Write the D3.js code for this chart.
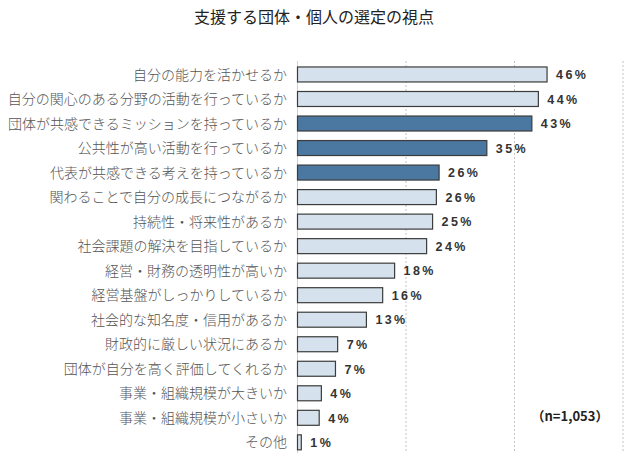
<!DOCTYPE html>
<html>
<head>
<meta charset="utf-8">
<script src="https://cdn.jsdelivr.net/npm/d3@7"></script>
<style>
  html, body { margin: 0; padding: 0; background: #fff; }
  svg { display: block; }
</style>
</head>
<body>
<div id="chart"></div>
<script>
const title = "支援する団体・個人の選定の視点";
const categories = [
  "自分の能力を活かせるか",
  "自分の関心のある分野の活動を行っているか",
  "団体が共感できるミッションを持っているか",
  "公共性が高い活動を行っているか",
  "代表が共感できる考えを持っているか",
  "関わることで自分の成長につながるか",
  "持続性・将来性があるか",
  "社会課題の解決を目指しているか",
  "経営・財務の透明性が高いか",
  "経営基盤がしっかりしているか",
  "社会的な知名度・信用があるか",
  "財政的に厳しい状況にあるか",
  "団体が自分を高く評価してくれるか",
  "事業・組織規模が大きいか",
  "事業・組織規模が小さいか",
  "その他"
];
const values = [46.0, 44.4, 43.2, 34.9, 26.1, 25.6, 24.9, 23.8, 17.9, 15.7, 12.7, 7.4, 7.0, 4.4, 4.0, 0.7];
const valueLabels = ["46%", "44%", "43%", "35%", "26%", "26%", "25%", "24%", "18%", "16%", "13%", "7%", "7%", "4%", "4%", "1%"];
const highlighted = [
  "団体が共感できるミッションを持っているか",
  "公共性が高い活動を行っているか",
  "代表が共感できる考えを持っているか"
];
const gridTicks = [0, 20, 40, 60];
const noteText = "（n=1,053）";

const W = 630, H = 462;
const svg = d3.select("#chart").append("svg").attr("width", W).attr("height", H);

const x = d3.scaleLinear().domain([0, 60]).range([297.5, 623]);
const y = d3.scaleBand().domain(categories).range([62.2, 454.6]).paddingInner(0.389).paddingOuter(0.1945);

const gridTop = 61, gridBottom = 453;

// gridlines
svg.append("g").selectAll("line").data(gridTicks.filter(t => t > 0)).join("line")
  .attr("x1", d => x(d)).attr("x2", d => x(d))
  .attr("y1", gridTop).attr("y2", gridBottom)
  .attr("stroke", "#c4c4c4").attr("stroke-width", 1)
  .attr("stroke-dasharray", "2,2");

// axis line at 0
svg.append("line")
  .attr("x1", x(0)).attr("x2", x(0))
  .attr("y1", gridTop).attr("y2", gridBottom)
  .attr("stroke", "#d0d0d0").attr("stroke-width", 1);

// title
svg.append("text")
  .attr("x", 314).attr("y", 23)
  .attr("text-anchor", "middle")
  .attr("font-family", "'Noto Sans CJK JP', sans-serif")
  .attr("font-size", 16)
  .attr("fill", "#222")
  .text(title);

const data = categories.map((c, i) => ({ c, v: values[i], l: valueLabels[i] }));

// bars
svg.append("g").selectAll("rect").data(data).join("rect")
  .attr("x", x(0))
  .attr("y", d => y(d.c))
  .attr("width", d => x(d.v) - x(0))
  .attr("height", y.bandwidth())
  .attr("fill", d => highlighted.includes(d.c) ? "#4a78a0" : "#d5e1ec")
  .attr("stroke", "#3c3c3c")
  .attr("stroke-width", 1.2);

// category labels
svg.append("g").selectAll("text").data(data).join("text")
  .attr("x", 287)
  .attr("y", d => y(d.c) + y.bandwidth() / 2)
  .attr("dy", "0.36em")
  .attr("text-anchor", "end")
  .attr("font-family", "'Noto Sans CJK JP', sans-serif")
  .attr("font-weight", 300)
  .attr("font-size", 14)
  .attr("fill", "#555")
  .text(d => d.c);

// value labels
svg.append("g").selectAll("text").data(data).join("text")
  .attr("x", d => x(d.v) + 9)
  .attr("y", d => y(d.c) + y.bandwidth() / 2)
  .attr("dy", "0.38em")
  .attr("font-family", "'Liberation Sans', Arial, sans-serif")
  .attr("font-weight", "bold")
  .attr("font-size", 12.5)
  .attr("letter-spacing", "2.4px")
  .attr("fill", "#333")
  .text(d => d.l);

// note
svg.append("text")
  .attr("x", 570).attr("y", 421)
  .attr("text-anchor", "middle")
  .attr("font-family", "'Noto Sans CJK JP', sans-serif")
  .attr("font-weight", "bold")
  .attr("font-size", 13)
  .attr("fill", "#222")
  .text(noteText);
</script>
</body>
</html>
